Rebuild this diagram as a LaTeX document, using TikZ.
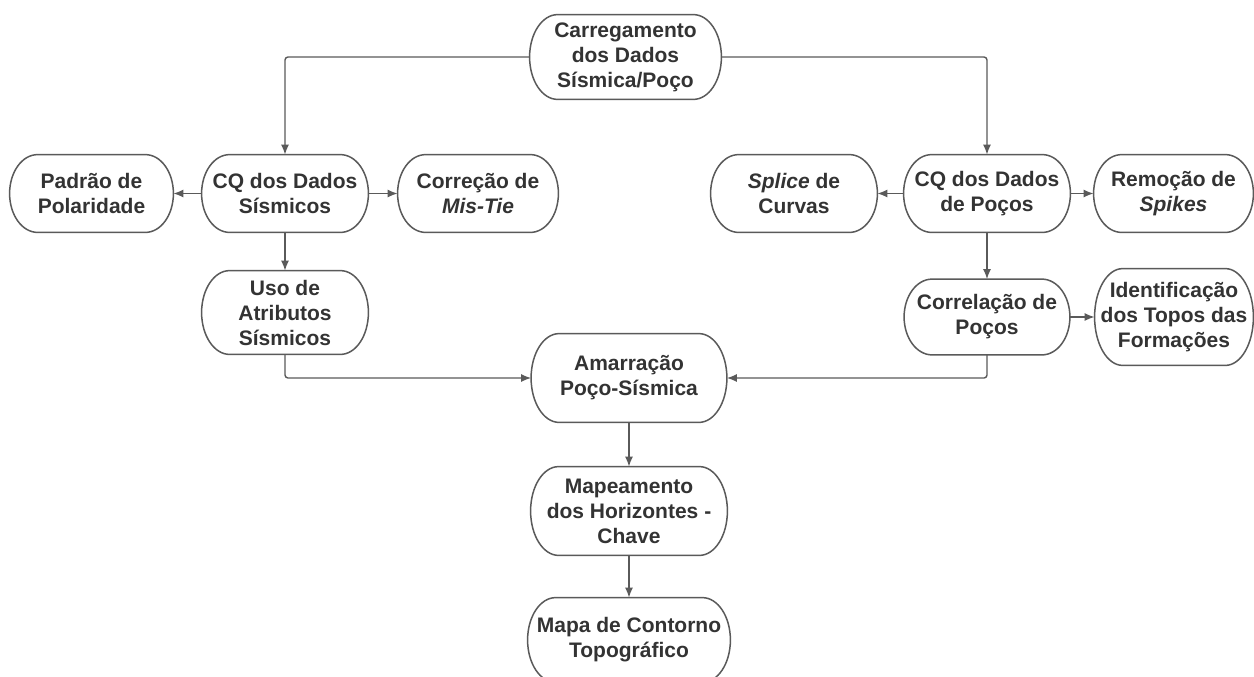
\documentclass[tikz,border=0pt]{standalone}
\usepackage{fontspec}
\setmainfont{Liberation Sans}
\usetikzlibrary{calc,arrows.meta}
\definecolor{txt}{HTML}{333333}
\definecolor{ln}{HTML}{5A5A5A}
\tikzset{
 box/.style={rectangle, inner sep=0pt, align=center, font=\fontsize{10.5}{12.5}\selectfont\bfseries, text=txt},
 conn/.style={draw=ln, line width=0.7pt, -{Latex[length=5pt,width=4pt]}, rounded corners=1.5pt},
 shapeline/.style={draw=ln, line width=0.75pt}
}
\newcommand\termshape[1]{%
 \draw[shapeline] let \p1=(#1.north west), \p2=(#1.south east), \n1={(\y1-\y2)/2} in
  (\x1+14pt,\y1) -- (\x2-14pt,\y1) arc[start angle=90,end angle=-90,x radius=14pt,y radius=\n1]
  -- (\x1+14pt,\y2) arc[start angle=270,end angle=90,x radius=14pt,y radius=\n1] -- cycle;}
\begin{document}
\begin{tikzpicture}[x=0.5pt,y=-0.5pt]
\fill[white] (0,0) rectangle (1254,676);
\useasboundingbox (0,0) rectangle (1254,676);
\node[box, minimum width=95.5pt, minimum height=42pt] (carreg) at (625.5,57) {Carregamento\\dos Dados\\Sísmica/Poço};
\node[box, minimum width=81.5pt, minimum height=38.5pt] (padrao) at (91.5,193.5) {Padrão de\\Polaridade};
\node[box, minimum width=83pt, minimum height=38.5pt] (cqsis) at (285,193.5) {CQ dos Dados\\Sísmicos};
\node[box, minimum width=80pt, minimum height=38.5pt] (correc) at (478,193.5) {Correção de\\\textit{Mis-Tie}};
\node[box, minimum width=83pt, minimum height=38.5pt] (splice) at (794,193.5) {\textit{Splice} de\\Curvas};
\node[box, minimum width=83pt, minimum height=38.5pt] (cqpoc) at (987,193.5) {CQ dos Dados\\de Poços};
\node[box, minimum width=79.5pt, minimum height=38.5pt] (remoc) at (1173.5,193.5) {Remoção de\\\textit{Spikes}};
\node[box, minimum width=83pt, minimum height=41.5pt] (uso) at (285,312.5) {Uso de\\Atributos\\Sísmicos};
\node[box, minimum width=82.5pt, minimum height=37.5pt] (correl) at (987,317) {Correlação de\\Poços};
\node[box, minimum width=79pt, minimum height=48pt] (ident) at (1174,317) {Identificação\\dos Topos das\\Formações};
\node[box, minimum width=97.5pt, minimum height=44pt] (amarr) at (629,378) {Amarração\\Poço-Sísmica};
\node[box, minimum width=98pt, minimum height=44pt] (mapeam) at (629,511) {Mapeamento\\dos Horizontes -\\Chave};
\node[box, minimum width=101pt, minimum height=42pt] (mapa) at (629,640) {Mapa de Contorno\\Topográfico};
\foreach \nm in {carreg,padrao,cqsis,correc,splice,cqpoc,remoc,uso,correl,ident,amarr,mapeam,mapa}{\termshape{\nm}}
\draw[conn] (carreg.west) -| (cqsis.north);
\draw[conn] (carreg.east) -| (cqpoc.north);
\draw[conn] (cqsis.west) -- (padrao.east);
\draw[conn] (cqsis.east) -- (correc.west);
\draw[conn] (cqsis.south) -- (uso.north);
\draw[conn] (cqpoc.west) -- (splice.east);
\draw[conn] (cqpoc.east) -- (remoc.west);
\draw[conn] (cqpoc.south) -- (correl.north);
\draw[conn] (correl.east) -- (ident.west);
\draw[conn] (uso.south) |- (amarr.west);
\draw[conn] (correl.south) |- (amarr.east);
\draw[conn] (amarr.south) -- (mapeam.north);
\draw[conn] (mapeam.south) -- (mapa.north);
\end{tikzpicture}
\end{document}
